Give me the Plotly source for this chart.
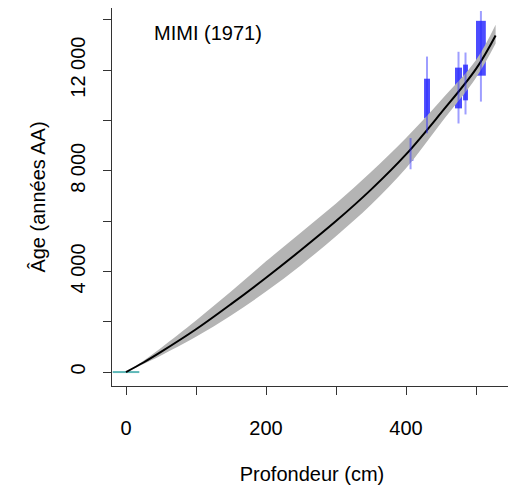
import plotly.graph_objects as go

# Age-depth model
depth = [0, 25, 50, 100, 150, 200, 250, 300, 350, 400, 450, 500, 528]
age_best = [0, 380, 800, 1700, 2700, 3750, 4850, 6000, 7250, 8650, 10300, 12050, 13380]
age_min = [0, 320, 660, 1400, 2250, 3200, 4250, 5400, 6650, 8100, 9900, 11700, 13060]
age_max = [0, 450, 960, 2050, 3200, 4400, 5550, 6700, 7950, 9300, 10800, 12400, 13800]

# Calibrated dates
date_depth = [406.5, 430, 475, 485, 507]
date_thick = [8, 8.5, 10, 7, 14]
date_lo1 = [8400, 10080, 10480, 10800, 11780]
date_hi1 = [8950, 11660, 12100, 12220, 13960]
date_lo2 = [8060, 9490, 9880, 10240, 10750]
date_hi2 = [9300, 12540, 12730, 12700, 14350]

# Surface date
surface_depth = 0
surface_age = 0
surface_half = 19

x_ticks = [0, 100, 200, 300, 400, 500]
x_ticktext = ["0", "", "200", "", "400", ""]
y_ticks = [0, 2000, 4000, 6000, 8000, 10000, 12000, 14000]
y_ticktext = ["0", "", "4 000", "", "8 000", "", "12 000", ""]

FONT = "Liberation Sans, Arial, sans-serif"

fig = go.Figure()

# uncertainty band
fig.add_trace(go.Scatter(x=depth, y=age_min, mode="lines", line=dict(width=0, shape="spline", color="#b4b4b4"),
                         showlegend=False, hoverinfo="skip"))
fig.add_trace(go.Scatter(x=depth, y=age_max, mode="lines", line=dict(width=0, shape="spline", color="#b4b4b4"),
                         fill="tonexty", fillcolor="#b4b4b4", showlegend=False, hoverinfo="skip"))

# surface date
fig.add_trace(go.Scatter(x=[surface_depth - surface_half, surface_depth + surface_half],
                         y=[surface_age, surface_age], mode="lines",
                         line=dict(color="rgba(40,160,160,0.75)", width=2), showlegend=False))

# best model
fig.add_trace(go.Scatter(x=depth, y=age_best, mode="lines", line=dict(color="black", width=2, shape="spline"),
                         showlegend=False))

# dates: boxes
fig.add_trace(go.Bar(x=date_depth, base=date_lo1, y=[h - l for h, l in zip(date_hi1, date_lo1)],
                     width=date_thick, marker=dict(color="rgba(0,0,255,0.7)", line=dict(width=0)),
                     showlegend=False))
# dates: lines
lx, ly = [], []
for d, lo, hi in zip(date_depth, date_lo2, date_hi2):
    lx += [d, d, None]
    ly += [lo, hi, None]
fig.add_trace(go.Scatter(x=lx, y=ly, mode="lines", line=dict(color="rgba(40,40,255,0.45)", width=2),
                         showlegend=False))

axis_common = dict(showline=True, linecolor="#333", linewidth=1, ticks="outside", ticklen=8,
                   tickcolor="#333", tickwidth=1, showgrid=False, zeroline=False, automargin=False,
                   tickfont=dict(family=FONT, size=20, color="black"))

# The page body adds an 8 px offset, so the figure is 8 px smaller each way
fig.update_layout(
    width=508, height=483,
    margin=dict(l=104, r=4, t=0, b=105),
    paper_bgcolor="white", plot_bgcolor="white",
    barmode="overlay",
    xaxis=dict(range=[-20, 551.4], tickvals=x_ticks, ticktext=x_ticktext,
               ticklabelstandoff=16,
               title=dict(text="Profondeur (cm)", font=dict(family=FONT, size=20, color="black"), standoff=28),
               **axis_common),
    yaxis=dict(range=[-554, 14470], tickvals=y_ticks, ticktext=y_ticktext, tickangle=-90,
               ticklabelstandoff=10,
               title=dict(text="Âge (années AA)", font=dict(family=FONT, size=20, color="black"), standoff=16),
               **axis_common),
    annotations=[dict(text="MIMI (1971)", xref="paper", yref="paper", x=0.1, y=0.935,
                      xanchor="left", yanchor="middle", showarrow=False,
                      font=dict(family=FONT, size=20, color="black"))],
)

fig.write_html("out.html")
